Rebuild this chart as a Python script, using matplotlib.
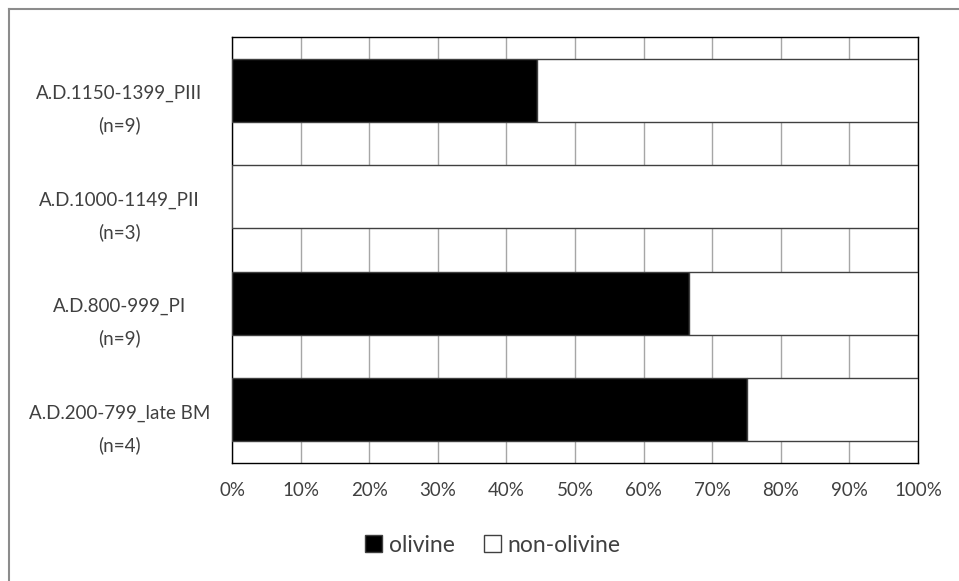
import matplotlib
matplotlib.use("Agg")
import matplotlib.pyplot as plt
from matplotlib.patches import Patch
from matplotlib.lines import Line2D
from matplotlib.transforms import ScaledTranslation
import numpy as np

categories = ["A.D.200-799_late BM\n(n=4)", "A.D.800-999_PI\n(n=9)",
              "A.D.1000-1149_PII\n(n=3)", "A.D.1150-1399_PIII\n(n=9)"]
olivine = [75.0, 66.67, 0.0, 44.44]
non_olivine = [25.0, 33.33, 100.0, 55.56]
xticks = [0, 10, 20, 30, 40, 50, 60, 70, 80, 90, 100]
xticklabels = [f"{t}%" for t in xticks]

plt.rcParams['font.family'] = ['Lato', 'DejaVu Sans']
W, H = 959, 581
fig = plt.figure(figsize=(W/100, H/100), dpi=100)
ax = fig.add_axes([232/W, 1-463/H, (918-232)/W, (463-37)/H])

y = np.arange(len(categories))
ax.barh(y, olivine, height=0.59, color='black', edgecolor='#404040', linewidth=1, zorder=3, label='olivine')
ax.barh(y, non_olivine, left=olivine, height=0.59, color='white', edgecolor='#404040', linewidth=1, zorder=3, label='non-olivine')

ax.set_xlim(0, 100)
ax.set_ylim(-0.5, len(categories)-0.5)
ax.set_xticks(xticks)
ax.set_xticklabels(xticklabels, fontsize=13.5, color='#404040')
ax.set_yticks(y)
ax.set_yticklabels(categories, fontsize=13.5, color='#404040', ha='center', multialignment='center', linespacing=1.95)
ax.tick_params(axis='y', length=0, pad=81)
ax.tick_params(axis='x', length=0, pad=14)
offset = ScaledTranslation(0, -0.11, fig.dpi_scale_trans)
for lab in ax.get_yticklabels():
    lab.set_transform(lab.get_transform() + offset)
ax.xaxis.grid(True, color='#a6a6a6', linewidth=1, zorder=0)
ax.set_axisbelow(True)
for s in ax.spines.values():
    s.set_color('black')
    s.set_linewidth(1)

handles = [Patch(facecolor='black', edgecolor='#404040', label='olivine'),
           Patch(facecolor='white', edgecolor='#404040', label='non-olivine')]
fig.legend(handles=handles, loc='center', bbox_to_anchor=(493/W, 1-545/H), ncol=2,
           frameon=False, fontsize=16.5, handlelength=0.75, handleheight=0.75,
           handletextpad=0.3, columnspacing=1.25, labelcolor='#404040')

fig.add_artist(Line2D([8.5/W, 1], [1-8.5/H, 1-8.5/H], transform=fig.transFigure, color='#8c8c8c', linewidth=1.5))
fig.add_artist(Line2D([8.5/W, 8.5/W], [0, 1-8.5/H], transform=fig.transFigure, color='#8c8c8c', linewidth=1.5))

fig.savefig("out.png", dpi=100)
